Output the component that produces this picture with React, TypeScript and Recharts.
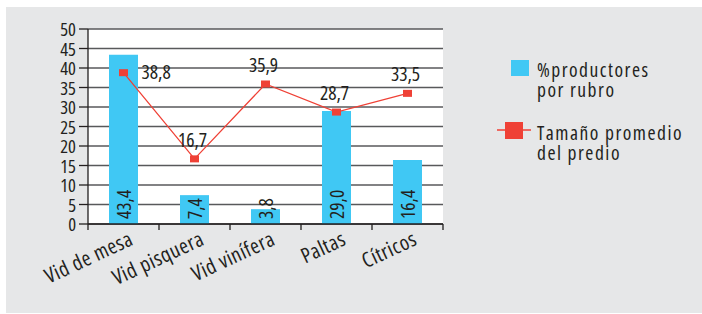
import React from "react";
import {
  ComposedChart,
  Bar,
  Line,
  XAxis,
  YAxis,
  CartesianGrid,
  LabelList,
} from "recharts";

const categories = ["Vid de mesa", "Vid pisquera", "Vid vinífera", "Paltas", "Cítricos"];
const productores = [43.4, 7.4, 3.8, 29.0, 16.4];
const tamano = [38.8, 16.7, 35.9, 28.7, 33.5];
const yTicks = [0, 5, 10, 15, 20, 25, 30, 35, 40, 45, 50];
const seriesNames = ["%productores\npor rubro", "Tamaño promedio\ndel predio"];

const data = categories.map((name, i) => ({
  name,
  productores: productores[i],
  tamano: tamano[i],
}));

const FONT = "'Open Sans', 'DejaVu Sans Condensed', sans-serif";
const NARROW: React.CSSProperties = { fontFamily: FONT, fontStretch: "75%" };
const TEXT = "#231f20";
const BLUE = "#40c8f4";
const RED = "#ef4136";
const GRID = "#58595b";

const W = 702;
const H = 314;
const PLOT_LEFT = 88;
const PLOT_RIGHT = 443;

const fmt = (v: number) => v.toFixed(1).replace(".", ",");

function CategoryTick(props: any) {
  const { x, y, payload, index } = props;
  const band = (PLOT_RIGHT - PLOT_LEFT) / categories.length;
  const lx = x + 11;
  const ly = y + 20;
  return (
    <g>
      <line x1={x - band / 2} x2={x - band / 2} y1={y} y2={y + 6} stroke={TEXT} strokeWidth={1.3} />
      {index === categories.length - 1 && (
        <line x1={x + band / 2} x2={x + band / 2} y1={y} y2={y + 6} stroke={TEXT} strokeWidth={1.3} />
      )}
      <text
        x={lx}
        y={ly}
        transform={`rotate(-25, ${lx}, ${ly})`}
        textAnchor="end"
        style={{ ...NARROW, letterSpacing: 0.6 }}
        fontSize={21}
        fill={TEXT}
      >
        {payload.value}
      </text>
    </g>
  );
}

function YTick(props: any) {
  const { x, y, payload } = props;
  return (
    <text x={x} y={y + 7} textAnchor="end" style={NARROW} fontSize={18.5} fill={TEXT}>
      {payload.value}
    </text>
  );
}

function BarValueLabel(props: any) {
  const { x, y, width, height, value } = props;
  const cx = x + width / 2 + 7;
  const by = y + height - 5;
  return (
    <text
      x={cx}
      y={by}
      transform={`rotate(-90, ${cx}, ${by})`}
      textAnchor="start"
      style={NARROW}
      fontSize={19.5}
      fill={TEXT}
    >
      {fmt(value)}
    </text>
  );
}

function LineValueLabel(props: any) {
  const { x, y, value, index } = props;
  if (index === 0) {
    return (
      <text x={x + 18} y={y + 6} textAnchor="start" style={NARROW} fontSize={19.5} fill={TEXT}>
        {fmt(value)}
      </text>
    );
  }
  return (
    <text x={x - 2} y={y - 12} textAnchor="middle" style={NARROW} fontSize={19.5} fill={TEXT}>
      {fmt(value)}
    </text>
  );
}

function SquareDot(props: any) {
  const { cx, cy } = props;
  return <rect x={cx - 4.5} y={cy - 3.5} width={9} height={7} fill={RED} />;
}

function LegendBox() {
  const textStyle: React.CSSProperties = {
    position: "absolute",
    left: 40,
    fontFamily: FONT,
    fontStretch: "75%",
    fontSize: 19.5,
    letterSpacing: 1.5,
    lineHeight: "20px",
    color: TEXT,
    whiteSpace: "pre",
    textAlign: "left",
  };
  return (
    <div style={{ position: "absolute", left: 497, top: 60, width: 205, height: 120 }}>
      <svg style={{ position: "absolute", left: 0, top: 0 }} width={36} height={120}>
        <rect x={14} y={-2} width={18} height={18} fill={BLUE} />
        <line x1={0} x2={34} y1={70} y2={70} stroke={RED} strokeWidth={1.3} />
        <rect x={8} y={62} width={18} height={17} fill={RED} />
      </svg>
      <div style={{ ...textStyle, top: 0 }}>{seriesNames[0]}</div>
      <div style={{ ...textStyle, top: 63 }}>{seriesNames[1]}</div>
    </div>
  );
}

export default function App() {
  return (
    <div style={{ position: "absolute", left: 0, top: 0, width: W, height: H, background: "#fff" }}>
      <div
        style={{ position: "absolute", left: 6, top: 7, width: W - 6, height: H - 8, background: "#e6e7e8" }}
      />
      <div style={{ position: "absolute", left: 0, top: 0 }}>
        <ComposedChart
          width={W}
          height={H}
          data={data}
          margin={{ top: 29, right: W - PLOT_RIGHT, bottom: 30, left: 40 }}
        >
          <CartesianGrid vertical={false} stroke={GRID} strokeWidth={1.3} fill="#ffffff" fillOpacity={1} />
          <XAxis
            dataKey="name"
            height={60}
            tickSize={0}
            tickMargin={0}
            tickLine={false}
            axisLine={{ stroke: TEXT, strokeWidth: 1.3 }}
            tick={<CategoryTick />}
            interval={0}
          />
          <YAxis
            width={48}
            domain={[0, 50]}
            ticks={yTicks}
            interval={0}
            tickSize={9}
            tickMargin={3}
            tickLine={{ stroke: TEXT, strokeWidth: 1.3 }}
            axisLine={{ stroke: TEXT, strokeWidth: 1.3 }}
            tick={<YTick />}
          />
          <Bar dataKey="productores" name={seriesNames[0]} fill={BLUE} barSize={29} isAnimationActive={false}>
            <LabelList dataKey="productores" content={<BarValueLabel />} />
          </Bar>
          <Line
            dataKey="tamano"
            name={seriesNames[1]}
            stroke={RED}
            strokeWidth={1.3}
            dot={<SquareDot />}
            activeDot={false}
            isAnimationActive={false}
          >
            <LabelList dataKey="tamano" content={<LineValueLabel />} />
          </Line>
        </ComposedChart>
      </div>
      <LegendBox />
    </div>
  );
}
